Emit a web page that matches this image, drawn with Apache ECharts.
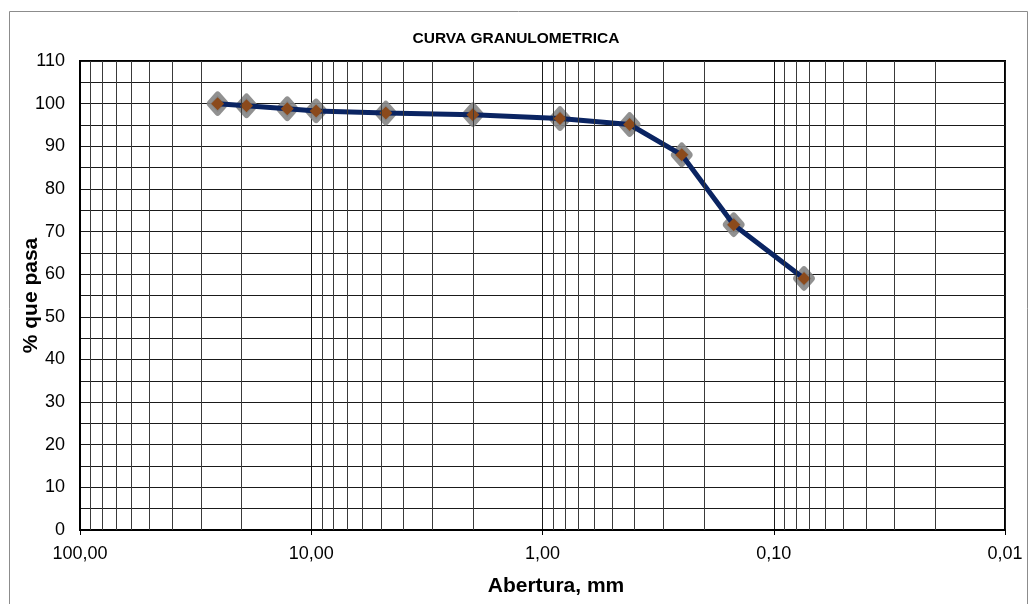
<!DOCTYPE html>
<html>
<head>
<meta charset="utf-8">
<script src="https://cdn.jsdelivr.net/npm/echarts@6/dist/echarts.min.js"></script>
<style>
html,body{margin:0;padding:0;background:#fff;}
#chart{width:1032px;height:604px;}
</style>
</head>
<body>
<div id="chart"></div>
<script>
// Sieve openings (mm) and percent passing
const aberturas = [25.4, 19.05, 12.7, 9.525, 4.76, 2.0, 0.84, 0.42, 0.25, 0.149, 0.074];
const porcentajePasa = [100, 99.5, 98.8, 98.3, 97.8, 97.4, 96.5, 95.1, 88.0, 71.6, 59.0];
const xTickValues = [100, 10, 1, 0.1, 0.01];
const yTickMax = 110;

const curva = aberturas.map((a, i) => [a, porcentajePasa[i]]);

// log-grid minor lines (2..9 in each decade)
const minorGrid = [];
[10, 1, 0.1, 0.01].forEach(d => { for (let k = 2; k <= 9; k++) minorGrid.push(+(k * d).toPrecision(6)); });

const FONT = '"Liberation Sans", Arial, sans-serif';
const chart = echarts.init(document.getElementById('chart'), null, {renderer: 'canvas'});
chart.setOption({
  animation: false,
  backgroundColor: '#fff',
  title: {
    text: 'CURVA GRANULOMETRICA',
    left: 'center',
    top: 26,
    textStyle: {fontFamily: FONT, fontSize: 15.5, fontWeight: 'bold', color: '#000'}
  },
  graphic: [{
    type: 'rect', silent: true, z: -1,
    shape: {x: 9.5, y: 11.5, width: 1018, height: 620},
    style: {fill: 'none', stroke: '#8c8c8c', lineWidth: 1}
  }],
  grid: {left: 80, right: 27, top: 61, bottom: 74, containLabel: false, outerBoundsMode: 'none',
         show: true, borderColor: '#000', borderWidth: 2, backgroundColor: 'transparent'},
  xAxis: {
    type: 'log', logBase: 10, min: 0.01, max: 100, inverse: true,
    name: 'Abertura, mm', nameLocation: 'middle', nameGap: 46, nameMoveOverlap: false,
    nameTextStyle: {fontFamily: FONT, fontSize: 21, fontWeight: 'bold', color: '#000', padding: [0, 0, 0, 27]},
    axisLine: {show: true, lineStyle: {color: '#000', width: 2}},
    axisTick: {show: true, length: 5, lineStyle: {color: '#000', width: 1}},
    axisLabel: {
      fontFamily: FONT, fontSize: 18, color: '#000', margin: 15,
      formatter: v => {
        const t = xTickValues.find(x => Math.abs(Math.log10(x) - Math.log10(v)) < 1e-6);
        return (t !== undefined ? t : v).toFixed(2).replace('.', ',');
      }
    },
    splitLine: {show: true, lineStyle: {color: '#1a1a1a', width: 1}}
  },
  yAxis: {
    type: 'value', min: 0, max: yTickMax, interval: 10,
    name: '% que pasa', nameLocation: 'middle', nameGap: 38, nameRotate: 90, nameMoveOverlap: false,
    nameTextStyle: {fontFamily: FONT, fontSize: 21, fontWeight: 'bold', color: '#000'},
    axisLine: {show: true, lineStyle: {color: '#000', width: 2}},
    axisTick: {show: false},
    axisLabel: {fontFamily: FONT, fontSize: 18, color: '#000', margin: 15},
    splitLine: {show: true, lineStyle: {color: '#1a1a1a', width: 1}},
    minorTick: {show: false, splitNumber: 2},
    minorSplitLine: {show: true, lineStyle: {color: '#1a1a1a', width: 1}}
  },
  series: [
    {
      type: 'line', data: [], silent: true, z: 0,
      markLine: {
        silent: true, symbol: 'none', animation: false,
        label: {show: false},
        lineStyle: {color: '#3a3a3a', width: 1, type: 'solid'},
        data: minorGrid.map(v => ({xAxis: v}))
      }
    },
    {
      type: 'scatter', data: curva, z: 3, silent: true,
      symbol: 'diamond', symbolSize: [15, 17],
      itemStyle: {color: '#858585', borderColor: '#858585', borderWidth: 7, borderJoin: 'round', opacity: 0.9}
    },
    {
      type: 'line', data: curva, z: 4, silent: true,
      lineStyle: {color: '#0a2462', width: 5},
      symbol: 'diamond', symbolSize: 13, showSymbol: true,
      itemStyle: {color: '#8b4a1c', borderWidth: 0}
    }
  ]
});
</script>
</body>
</html>
